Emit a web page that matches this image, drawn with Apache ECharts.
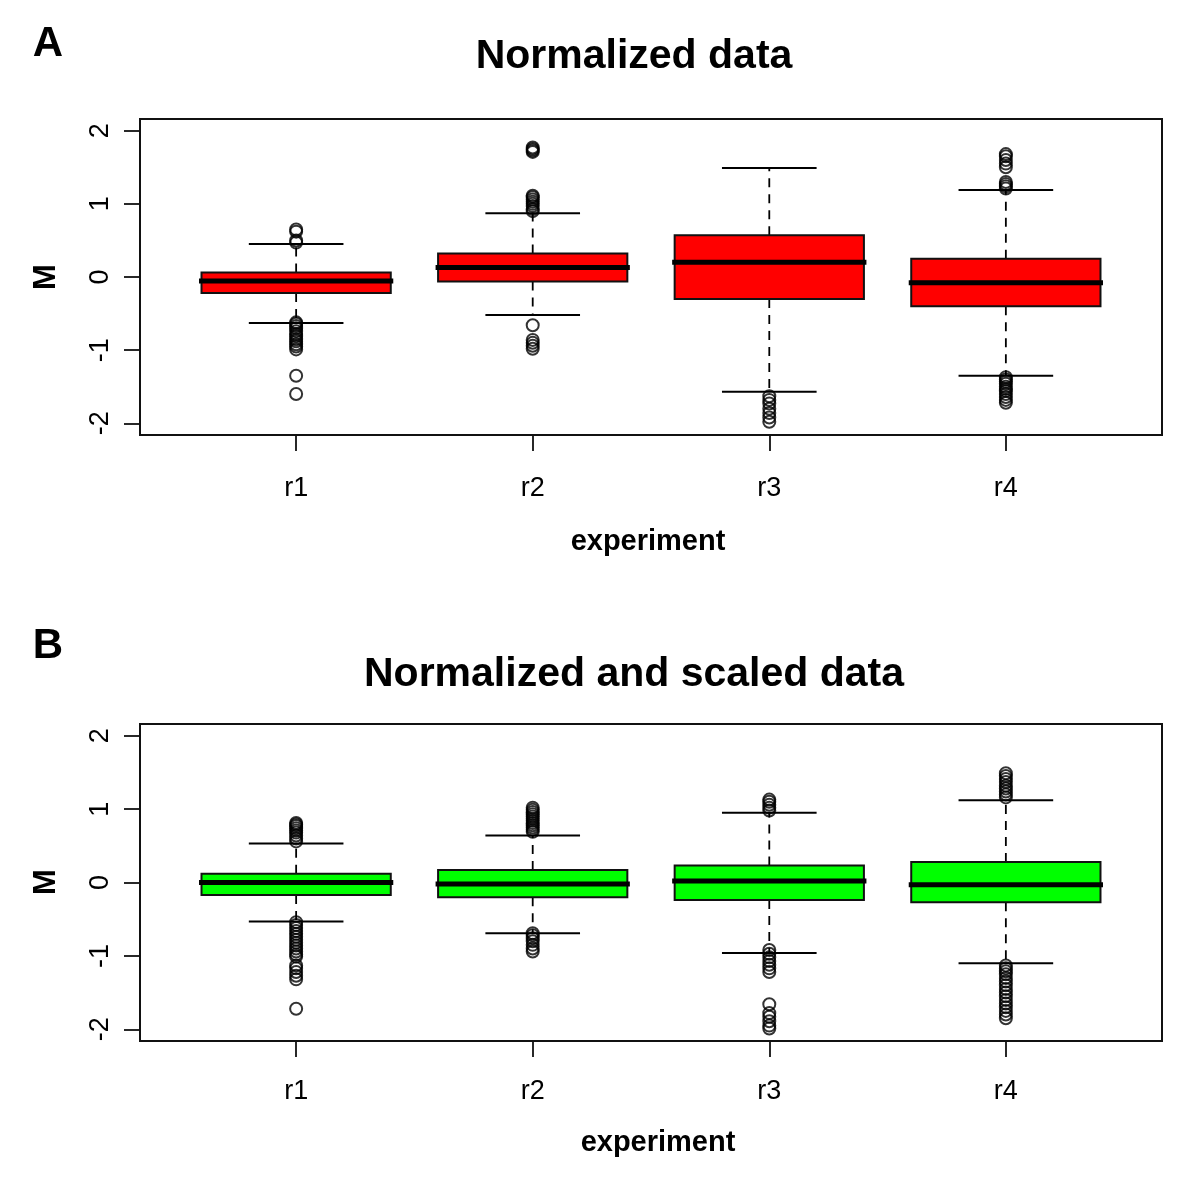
<!DOCTYPE html>
<html>
<head>
<meta charset="utf-8">
<script src="https://cdn.jsdelivr.net/npm/echarts@6/dist/echarts.min.js"></script>
<style>
  html, body { margin: 0; padding: 0; background: #fff; }
  #chart { width: 1200px; height: 1186px; }
</style>
</head>
<body>
<div id="chart"></div>
<script>
// ---------- data ----------
const categories = ['r1', 'r2', 'r3', 'r4'];
const yTicks = [-2, -1, 0, 1, 2];

// Panel A: Normalized data
const aLowerWhisker = [-0.63, -0.52, -1.57, -1.35];
const aQ1           = [-0.22, -0.06, -0.30, -0.40];
const aMedian       = [-0.055, 0.13, 0.20, -0.08];
const aQ3           = [0.06, 0.32, 0.57, 0.25];
const aUpperWhisker = [0.45, 0.87, 1.49, 1.19];
const aOutliersR1 = [0.65, 0.62, 0.50, 0.47, -0.62, -0.64, -0.67, -0.70, -0.74, -0.78, -0.81, -0.85, -0.88, -0.92, -0.95, -0.99, -1.35, -1.60];
const aOutliersR2 = [1.77, 1.75, 1.73, 1.71, 1.11, 1.09, 1.06, 1.03, 1.00, 0.97, 0.93, 0.90, -0.66, -0.86, -0.90, -0.94, -0.98];
const aOutliersR3 = [-1.63, -1.68, -1.73, -1.80, -1.86, -1.92, -1.98];
const aOutliersR4 = [1.68, 1.65, 1.60, 1.55, 1.50, 1.30, 1.27, 1.24, 1.21, -1.37, -1.40, -1.43, -1.46, -1.50, -1.53, -1.56, -1.60, -1.64, -1.68, -1.72];

// Panel B: Normalized and scaled data
const bLowerWhisker = [-0.53, -0.69, -0.96, -1.10];
const bQ1           = [-0.17, -0.20, -0.24, -0.27];
const bMedian       = [0.00, -0.02, 0.02, -0.03];
const bQ3           = [0.12, 0.17, 0.23, 0.28];
const bUpperWhisker = [0.53, 0.64, 0.95, 1.12];
const bOutliersR1 = [0.81, 0.79, 0.77, 0.74, 0.71, 0.68, 0.64, 0.60, 0.56, -0.54, -0.58, -0.62, -0.66, -0.70, -0.74, -0.78, -0.82, -0.86, -0.90, -0.94, -0.98, -1.01, -1.13, -1.17, -1.22, -1.27, -1.32, -1.72];
const bOutliersR2 = [1.02, 0.99, 0.96, 0.93, 0.90, 0.87, 0.84, 0.81, 0.78, 0.75, 0.72, 0.69, -0.69, -0.72, -0.76, -0.80, -0.85, -0.90, -0.94];
const bOutliersR3 = [1.13, 1.10, 1.06, 1.02, 0.98, -0.92, -0.97, -1.02, -1.07, -1.12, -1.17, -1.22, -1.66, -1.78, -1.83, -1.89, -1.95, -1.99];
const bOutliersR4 = [1.49, 1.45, 1.41, 1.37, 1.32, 1.28, 1.24, 1.20, 1.16, -1.13, -1.17, -1.21, -1.25, -1.30, -1.35, -1.40, -1.45, -1.50, -1.55, -1.60, -1.65, -1.70, -1.75, -1.80, -1.85];

const titleA = 'Normalized data';
const titleB = 'Normalized and scaled data';
const xName = 'experiment';
const yName = 'M';

// ---------- build ----------
const FONT = "'Liberation Sans', Arial, Helvetica, sans-serif";
const posX = categories.map((c, i) => i + 1);

function boxRows(lo, q1, med, q3, hi) {
  return posX.map((x, i) => [x, lo[i], q1[i], med[i], q3[i], hi[i]]);
}
function outlierRows(lists) {
  const rows = [];
  lists.forEach((list, i) => list.forEach(v => rows.push([posX[i], v])));
  return rows;
}

function renderBox(fill) {
  return function (params, api) {
    const x = api.value(0);
    const lo = api.value(1), q1 = api.value(2), med = api.value(3), q3 = api.value(4), hi = api.value(5);
    const hb = 0.4, hc = 0.2;
    const tl = api.coord([x - hb, q3]);
    const br = api.coord([x + hb, q1]);
    const pQ3 = api.coord([x, q3]), pHi = api.coord([x, hi]);
    const pQ1 = api.coord([x, q1]), pLo = api.coord([x, lo]);
    const cHiL = api.coord([x - hc, hi]), cHiR = api.coord([x + hc, hi]);
    const cLoL = api.coord([x - hc, lo]), cLoR = api.coord([x + hc, lo]);
    const mL = api.coord([x - hb, med]), mR = api.coord([x + hb, med]);
    const dash = { stroke: '#000', lineWidth: 1.8, lineDash: [9, 7] };
    const solid = { stroke: '#000', lineWidth: 2 };
    return {
      type: 'group',
      children: [
        { type: 'line', shape: { x1: pQ3[0], y1: pQ3[1], x2: pHi[0], y2: pHi[1] }, style: dash },
        { type: 'line', shape: { x1: pQ1[0], y1: pQ1[1], x2: pLo[0], y2: pLo[1] }, style: dash },
        { type: 'line', shape: { x1: cHiL[0], y1: cHiL[1], x2: cHiR[0], y2: cHiR[1] }, style: solid },
        { type: 'line', shape: { x1: cLoL[0], y1: cLoL[1], x2: cLoR[0], y2: cLoR[1] }, style: solid },
        { type: 'rect', shape: { x: tl[0], y: tl[1], width: br[0] - tl[0], height: br[1] - tl[1] },
          style: { fill: fill, stroke: '#111', lineWidth: 2 } },
        { type: 'line', shape: { x1: mL[0], y1: mL[1], x2: mR[0], y2: mR[1] },
          style: { stroke: '#000', lineWidth: 5, lineCap: 'square' } }
      ]
    };
  };
}

function xAxisCfg(gridIndex, margin) {
  return {
    type: 'value', gridIndex: gridIndex, min: 0.34, max: 4.66,
    axisLine: { show: true, onZero: false, lineStyle: { color: '#111', width: 2 } },
    axisTick: { show: true, length: 16, lineStyle: { color: '#111', width: 1.8 }, customValues: posX },
    axisLabel: {
      show: true, customValues: posX, margin: margin,
      formatter: v => categories[Math.round(v) - 1] || '',
      fontFamily: FONT, fontSize: 27, color: '#000'
    },
    splitLine: { show: false }
  };
}
function yAxisCfg(gridIndex) {
  return {
    type: 'value', gridIndex: gridIndex, min: -2.16, max: 2.16,
    axisLine: { show: true, onZero: false, lineStyle: { color: '#111', width: 2 } },
    axisTick: { show: true, length: 16, lineStyle: { color: '#111', width: 1.8 }, customValues: yTicks },
    axisLabel: {
      show: true, customValues: yTicks, rotate: 90, margin: 26,
      fontFamily: FONT, fontSize: 27, color: '#000'
    },
    splitLine: { show: false }
  };
}

function textEl(str, x, y, size, opts) {
  return Object.assign({
    type: 'text', x: x, y: y,
    style: { text: str, fontFamily: FONT, fontSize: size, fontWeight: 'bold', fill: '#000',
             align: 'center', verticalAlign: 'middle' }
  }, opts || {});
}

const chart = echarts.init(document.getElementById('chart'), null, { renderer: 'canvas' });
const scatterStyle = { color: 'rgba(0,0,0,0)', borderColor: '#000', borderWidth: 2 };

chart.setOption({
  backgroundColor: '#fff',
  animation: false,
  grid: [
    { left: 140, top: 119, width: 1022, height: 316, show: true, borderColor: '#111', borderWidth: 2, backgroundColor: 'transparent' },
    { left: 140, top: 724, width: 1022, height: 317, show: true, borderColor: '#111', borderWidth: 2, backgroundColor: 'transparent' }
  ],
  xAxis: [xAxisCfg(0, 40), xAxisCfg(1, 37)],
  yAxis: [yAxisCfg(0), yAxisCfg(1)],
  series: [
    { type: 'custom', xAxisIndex: 0, yAxisIndex: 0, renderItem: renderBox('#ff0000'),
      data: boxRows(aLowerWhisker, aQ1, aMedian, aQ3, aUpperWhisker), z: 2 },
    { type: 'scatter', xAxisIndex: 0, yAxisIndex: 0, symbol: 'circle', symbolSize: 12,
      itemStyle: scatterStyle, data: outlierRows([aOutliersR1, aOutliersR2, aOutliersR3, aOutliersR4]), z: 3 },
    { type: 'custom', xAxisIndex: 1, yAxisIndex: 1, renderItem: renderBox('#00ff00'),
      data: boxRows(bLowerWhisker, bQ1, bMedian, bQ3, bUpperWhisker), z: 2 },
    { type: 'scatter', xAxisIndex: 1, yAxisIndex: 1, symbol: 'circle', symbolSize: 12,
      itemStyle: scatterStyle, data: outlierRows([bOutliersR1, bOutliersR2, bOutliersR3, bOutliersR4]), z: 3 }
  ],
  graphic: [
    textEl('A', 48, 44, 42),
    textEl(titleA, 634, 57, 41),
    textEl(xName, 648, 542, 29),
    textEl(yName, 46, 277, 31, { rotation: Math.PI / 2 }),
    textEl('B', 48, 646, 42),
    textEl(titleB, 634, 675, 41),
    textEl(xName, 658, 1143, 29),
    textEl(yName, 46, 882, 31, { rotation: Math.PI / 2 })
  ]
});
</script>
</body>
</html>
